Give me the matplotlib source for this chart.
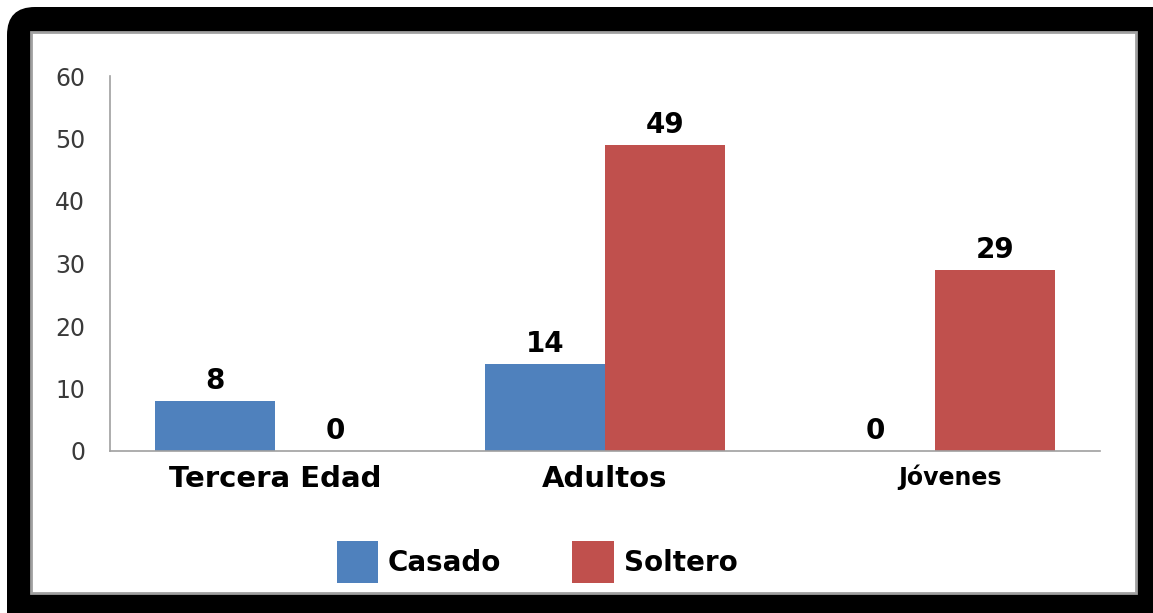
import numpy as np
import matplotlib.pyplot as plt
import matplotlib.transforms as mtransforms
from matplotlib.patches import FancyBboxPatch, Rectangle

categorias = ['Tercera Edad', 'Adultos', 'Jóvenes']
casado = [8, 14, 0]
soltero = [0, 49, 29]

azul = '#4F81BD'
rojo = '#C0504D'

W, H = 1153, 613
fig = plt.figure(figsize=(W / 100, H / 100), dpi=100)
fig.patch.set_facecolor('white')

# marco negro redondeado (se sale por abajo y por la derecha)
marco = FancyBboxPatch((7 / W, -0.5), 1.2, 1.5 - 7 / H,
                       boxstyle=f'round,pad=0,rounding_size={28 / W}',
                       transform=fig.transFigure, facecolor='black',
                       edgecolor='none', mutation_aspect=W / H, zorder=-2)
fig.patches.append(marco)
interior = Rectangle((31 / W, (H - 593) / H), (1136 - 31) / W, (593 - 32) / H,
                     transform=fig.transFigure, facecolor='white',
                     edgecolor='#A0A0A0', linewidth=2, zorder=-1)
fig.patches.append(interior)

ax = fig.add_axes([110 / W, (H - 451) / H, 990 / W, 375 / H])
ax.set_facecolor('none')

x = np.arange(len(categorias))
ancho = 0.3636
b1 = ax.bar(x - ancho / 2, casado, ancho, color=azul, label='Casado')
b2 = ax.bar(x + ancho / 2, soltero, ancho, color=rojo, label='Soltero')

for barras in (b1, b2):
    for r in barras:
        v = r.get_height()
        ax.annotate(f'{v:g}', (r.get_x() + r.get_width() / 2, v),
                    xytext=(0, 4), textcoords='offset points',
                    ha='center', va='bottom', fontsize=20,
                    fontweight='heavy', color='black')

ax.set_xlim(-0.5, 2.5)
ax.set_ylim(0, 60)
ax.set_yticks(range(0, 61, 10))
ax.tick_params(axis='y', length=0, pad=18, labelsize=17, labelcolor='#3a3a3a')
ax.tick_params(axis='x', length=0, pad=10)
ax.set_xticks(x)
ax.set_xticklabels(categorias)
tam = [21, 21, 17]
desplaza = [0, 0, 15]
for lbl, s, dx in zip(ax.get_xticklabels(), tam, desplaza):
    lbl.set_fontsize(s)
    lbl.set_fontweight('heavy')
    lbl.set_color('black')
    lbl.set_transform(lbl.get_transform() +
                      mtransforms.ScaledTranslation(dx / 100, 0, fig.dpi_scale_trans))

for lado in ('top', 'right'):
    ax.spines[lado].set_visible(False)
for lado in ('left', 'bottom'):
    ax.spines[lado].set_color('#A0A0A0')
    ax.spines[lado].set_linewidth(1.2)

leg = fig.legend(handles=[b1, b2], loc='center', bbox_to_anchor=(537 / W, (H - 562) / H),
                 ncol=2, frameon=False, prop={'size': 20, 'weight': 'heavy'},
                 handlelength=1.5, handleheight=1.9, columnspacing=2.55,
                 handletextpad=0.35)

fig.savefig('out.png', dpi=100)
